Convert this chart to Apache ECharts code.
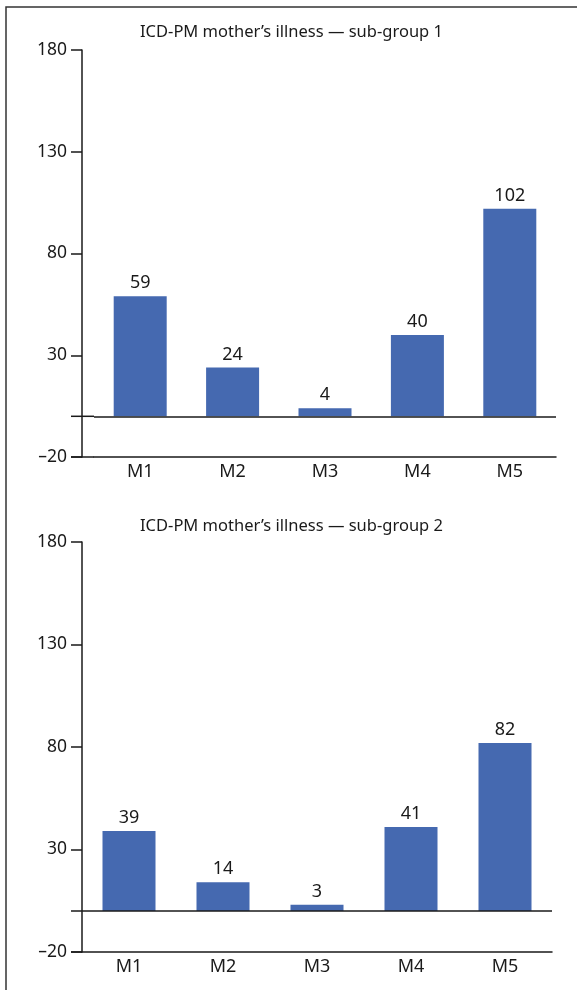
<!DOCTYPE html>
<html>
<head>
<meta charset="utf-8">
<script src="https://cdn.jsdelivr.net/npm/echarts@6/dist/echarts.min.js"></script>
<style>
html,body{margin:0;padding:0;background:#fff;}
#c{width:577px;height:990px;}
</style>
</head>
<body>
<div id="c"></div>
<script>
const categories = ['M1', 'M2', 'M3', 'M4', 'M5'];
const subGroup1 = [59, 24, 4, 40, 102];
const subGroup2 = [39, 14, 3, 41, 82];
const titles = ['ICD-PM mother\u2019s illness \u2014 sub-group 1', 'ICD-PM mother\u2019s illness \u2014 sub-group 2'];
const yMin = -20, yMax = 180, yStep = 50;

const FONT = 'Noto Sans';
const BAR = '#4569B0';
const INK = '#1a1a1a';

const grids = [
  { left: 94, right: 21, top: 50, bottom: 533 },
  { left: 82, right: 25, top: 542, bottom: 38 }
];
const yOffsets = [12, 0];

function fmt(v) { return v < 0 ? '\u2013' + Math.abs(v) : String(v); }

const chart = echarts.init(document.getElementById('c'), null, { renderer: 'canvas' });
const option = {
  animation: false,
  backgroundColor: '#fff',
  textStyle: { fontFamily: FONT },
  title: [
    { text: titles[0], left: 140, top: 24, padding: 0,
      textStyle: { fontFamily: FONT, fontSize: 16.5, fontWeight: 'normal', color: INK } },
    { text: titles[1], left: 140, top: 518, padding: 0,
      textStyle: { fontFamily: FONT, fontSize: 16.5, fontWeight: 'normal', color: INK } }
  ],
  grid: grids,
  xAxis: grids.map((g, i) => ({
    type: 'category', gridIndex: i, data: categories,
    axisLine: { onZero: false, lineStyle: { color: INK, width: 1.5 } },
    axisTick: { show: false },
    axisLabel: { color: INK, fontFamily: FONT, fontSize: 18, margin: 6 }
  })),
  yAxis: grids.map((g, i) => ({
    type: 'value', gridIndex: i, min: yMin, max: yMax, interval: yStep,
    offset: yOffsets[i],
    axisLine: { show: true, lineStyle: { color: INK, width: 1.5 } },
    axisTick: { show: true, length: 11, lineStyle: { color: INK, width: 1.5 } },
    axisLabel: { color: INK, fontFamily: FONT, fontSize: 17.5, margin: 15, formatter: fmt },
    splitLine: { show: false }
  })),
  series: [subGroup1, subGroup2].map((d, i) => ({
    type: 'bar', xAxisIndex: i, yAxisIndex: i, data: d, barWidth: 53,
    itemStyle: { color: BAR },
    label: { show: true, position: 'top', distance: 4, color: INK, fontFamily: FONT, fontSize: 18 },
    markLine: {
      silent: true, symbol: 'none', label: { show: false },
      lineStyle: { color: INK, width: 1.5, type: 'solid' },
      data: [{ yAxis: 0 }]
    }
  }))
};
chart.setOption(option);

// left extensions of the zero line and the bottom axis line, placed through the axes' scales
const extra = [];
grids.forEach((g, i) => {
  [0, yMin].forEach(v => {
    const y = chart.convertToPixel({ yAxisIndex: i }, v);
    extra.push({ type: 'line', shape: { x1: 71, y1: y, x2: g.left, y2: y },
      style: { stroke: INK, lineWidth: 1.5 }, z: 10 });
  });
});
// outer frame
extra.push({ type: 'polyline', shape: { points: [[6, 990], [6, 7], [577, 7]] },
  style: { stroke: '#333', lineWidth: 1.5, fill: null }, z: 10 });
chart.setOption({ graphic: extra });
</script>
</body>
</html>
